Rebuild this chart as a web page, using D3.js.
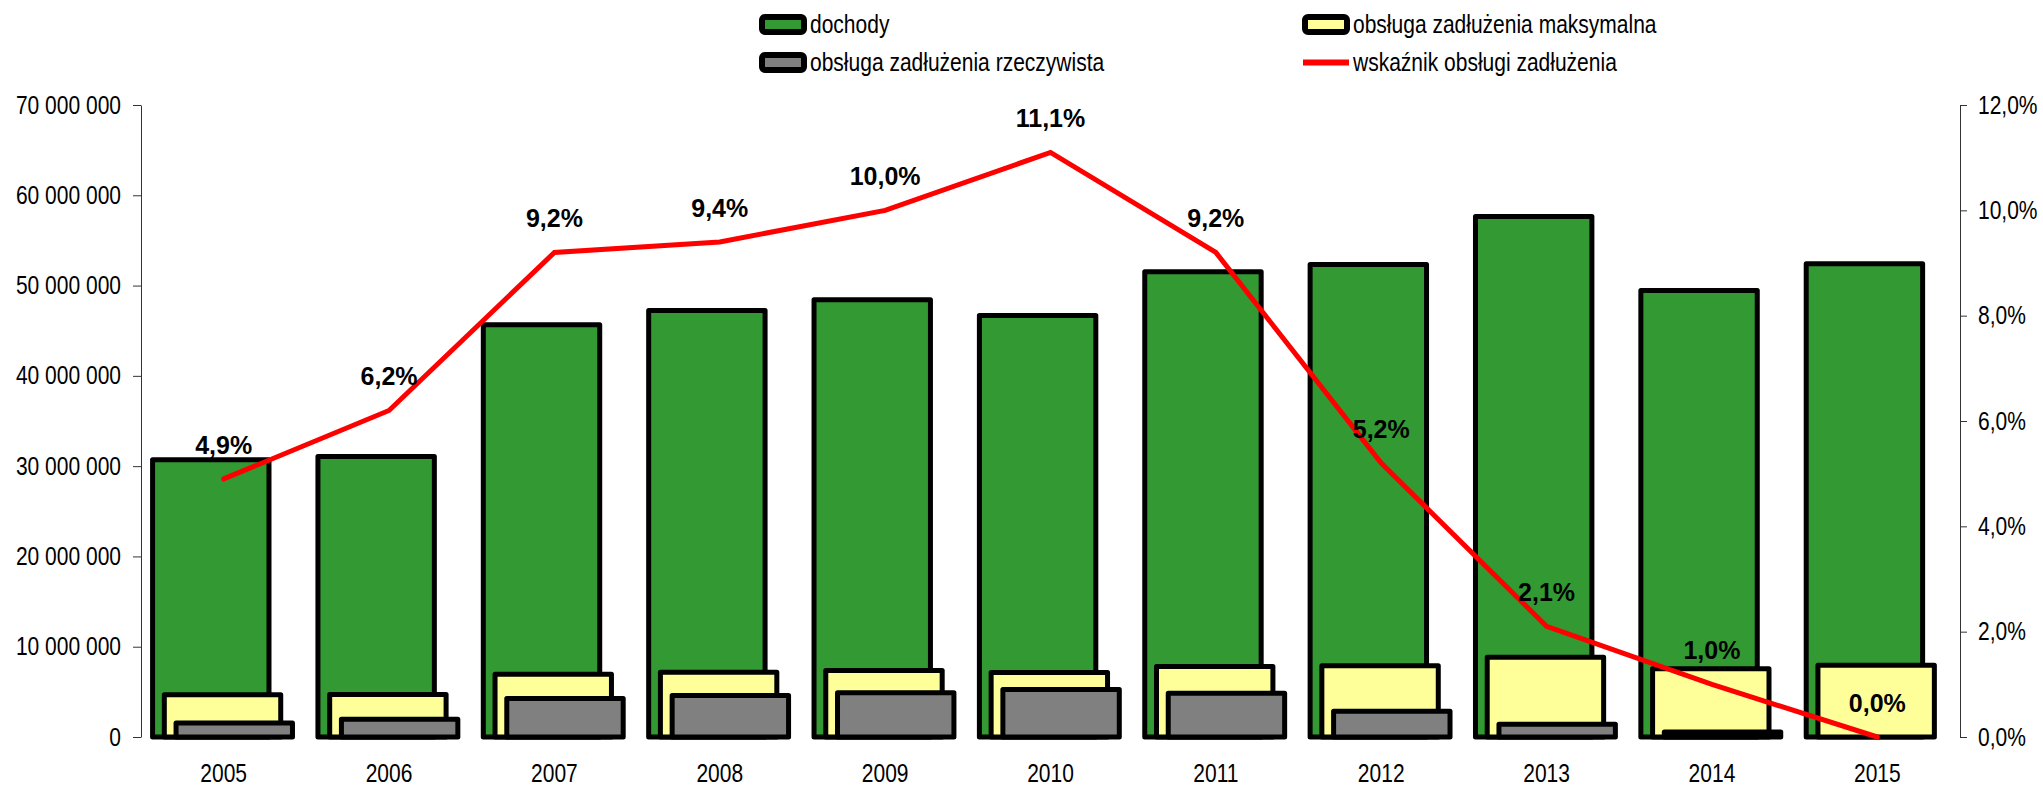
<!DOCTYPE html>
<html>
<head>
<meta charset="utf-8">
<script src="https://cdn.jsdelivr.net/npm/d3@7"></script>
<style>
body { margin: 0; background: #FFFFFF; }
.tick text, .legend text { font-family: "Liberation Sans", Arial, sans-serif; fill: #000000; }
.pct { font-family: "Liberation Sans", Arial, sans-serif; font-weight: bold; font-size: 25px; fill: #000000; }
</style>
</head>
<body>
<script>
//Data
var years = ["2005", "2006", "2007", "2008", "2009", "2010", "2011", "2012", "2013", "2014", "2015"];
var dochody = [30700000, 31070000, 45650000, 47240000, 48420000, 46680000, 51530000, 52330000, 57650000, 49450000, 52410000];
var obslugaMax = [4670000, 4710000, 6960000, 7180000, 7370000, 7140000, 7810000, 7890000, 8840000, 7550000, 7950000];
var obslugaRzecz = [1550000, 1970000, 4260000, 4600000, 4890000, 5260000, 4850000, 2860000, 1420000, 550000, null];
var wskaznik = [4.9, 6.2, 9.2, 9.4, 10.0, 11.1, 9.2, 5.2, 2.1, 1.0, 0.0];
var leftTicks = [0, 10000000, 20000000, 30000000, 40000000, 50000000, 60000000, 70000000];
var rightTicks = [0, 2, 4, 6, 8, 10, 12];

//Settings
var width = 2043;
var height = 785;
var plotLeft = 141;
var plotRight = 1960;
var plotTop = 105;
var plotBottom = 737;
var barStart = 0.07;
var barStep = 0.071;
var barFrac = 0.704;
var narrow = 0.84; //no narrow font installed, squeeze the glyphs instead

var pl = d3.formatLocale({decimal: ",", thousands: " ", grouping: [3], currency: ["", ""]});
var fmtMoney = pl.format(",.0f");
var fmtPct = function(v) { return pl.format(".1f")(v) + "%"; };

function squeeze(sel)
{
    sel.each(function() {
        var len = this.getComputedTextLength();
        d3.select(this).attr("textLength", len * narrow).attr("lengthAdjust", "spacingAndGlyphs");
    });
}

//SVG
var svg = d3.select("body").append("svg").attr("width", width).attr("height", height);

//Scales
var x = d3.scaleBand().domain(years).range([plotLeft, plotRight]).padding(0);
var y = d3.scaleLinear().domain([0, 70000000]).range([plotBottom, plotTop]);
var y2 = d3.scaleLinear().domain([0, 12]).range([plotBottom, plotTop]);
var bw = x.bandwidth();

//Axes
var gl = svg.append("g").attr("transform", "translate(" + plotLeft + ",0)")
    .call(d3.axisLeft(y).tickValues(leftTicks).tickSize(8).tickSizeOuter(0).tickPadding(12).tickFormat(fmtMoney));
var gr = svg.append("g").attr("transform", "translate(" + plotRight + ",0)")
    .call(d3.axisRight(y2).tickValues(rightTicks).tickSize(7).tickSizeOuter(0).tickPadding(11).tickFormat(fmtPct));
var gb = svg.append("g").attr("transform", "translate(0," + plotBottom + ")")
    .call(d3.axisBottom(x).tickSize(0).tickPadding(27));
gb.select(".domain").remove();
[gl, gr, gb].forEach(function(g) {
    g.selectAll("text").style("font-size", "25px").call(squeeze);
    g.selectAll("path, line").attr("stroke", "#333333");
});

//Bars
var series = [
    {values: dochody, color: "#339933"},
    {values: obslugaMax, color: "#FFFF99"},
    {values: obslugaRzecz, color: "#808080"}
];
series.forEach(function(s, si) {
    svg.append("g").selectAll("rect")
        .data(years.map(function(yr, i) { return {year: yr, value: s.values[i]}; }).filter(function(d) { return d.value != null; }))
        .enter().append("rect")
        .attr("x", function(d) { return x(d.year) + bw * (barStart + si * barStep); })
        .attr("y", function(d) { return y(d.value); })
        .attr("width", bw * barFrac)
        .attr("height", function(d) { return plotBottom - y(d.value); })
        .attr("fill", s.color)
        .attr("stroke", "#000000")
        .attr("stroke-width", 5)
        .attr("stroke-linejoin", "round");
});

//Line
var pts = years.map(function(yr, i) { return {year: yr, value: wskaznik[i]}; });
var line = d3.line().x(function(d) { return x(d.year) + bw / 2; }).y(function(d) { return y2(d.value); });
svg.append("path").datum(pts).attr("d", line).attr("fill", "none")
    .attr("stroke", "#FF0000").attr("stroke-width", 5).attr("stroke-linecap", "round");

//Labels
svg.append("g").selectAll("text").data(pts).enter().append("text")
    .attr("class", "pct")
    .attr("x", function(d) { return x(d.year) + bw / 2; })
    .attr("y", function(d) { return y2(d.value) - 25; })
    .attr("text-anchor", "middle")
    .text(function(d) { return fmtPct(d.value); });

//Legend
var legendItems = [
    {name: "dochody", color: "#339933", type: "rect", lx: 762, ly: 24.5},
    {name: "obsługa zadłużenia maksymalna", color: "#FFFF99", type: "rect", lx: 1305, ly: 24.5},
    {name: "obsługa zadłużenia rzeczywista", color: "#808080", type: "rect", lx: 762, ly: 62.5},
    {name: "wskaźnik obsługi zadłużenia", color: "#FF0000", type: "line", lx: 1305, ly: 62.5}
];
var legend = svg.append("g").attr("class", "legend");
legendItems.forEach(function(item) {
    var lg = legend.append("g").attr("transform", "translate(" + item.lx + ", " + item.ly + ")");
    if(item.type == "rect")
    {
        lg.append("rect").attr("x", 0).attr("y", -7.5).attr("width", 42).attr("height", 15).attr("rx", 3)
            .attr("fill", item.color).attr("stroke", "#000000").attr("stroke-width", 6);
    }
    else
    {
        lg.append("line").attr("x1", -2).attr("x2", 44).attr("y1", 0).attr("y2", 0)
            .attr("stroke", item.color).attr("stroke-width", 6);
    }
    lg.append("text").attr("x", 48).attr("y", 0).attr("dy", "0.35em").style("font-size", "25px").text(item.name).call(squeeze);
});
</script>
</body>
</html>
